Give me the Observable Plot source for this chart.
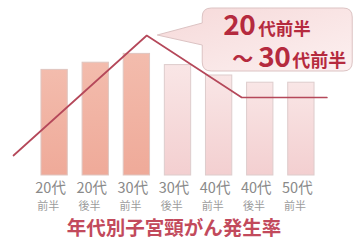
<!DOCTYPE html>
<html>
<head>
<meta charset="utf-8">
<script src="https://cdn.jsdelivr.net/npm/d3@7"></script>
<script src="https://cdn.jsdelivr.net/npm/@observablehq/plot@0.6"></script>
<style>
  html, body { margin: 0; padding: 0; background: #fff; }
  svg { display: block; }
</style>
</head>
<body>
<div id="chart"></div>
<script>
// ---- data ----
const ages = ["20代", "20代", "30代", "30代", "40代", "40代", "50代"];
const halves = ["前半", "後半", "前半", "後半", "前半", "後半", "前半"];
const rates = [66, 70.5, 76, 69, 62.5, 58, 58];
const highlightCount = 3; // 20代前半 ～ 30代前半
const trendX = [0, 3.24, 5.55, 7.62];
const trendY = [12.5, 87.5, 48.75, 48.75];
const calloutLine1 = ["20", "代前半"];
const calloutLine2 = ["～", "30", "代前半"];
const title = "年代別子宮頸がん発生率";

const bars = rates.map((v, i) => ({pos: i + 1, value: v, age: ages[i], half: halves[i], hi: i < highlightCount}));
const trend = trendX.map((x, i) => ({x, y: trendY[i]}));
const font = "'Noto Sans CJK JP', 'Noto Sans', sans-serif";
const hw = 0.32;

const chart = Plot.plot({
  width: 358,
  height: 249,
  marginTop: 15,
  marginBottom: 74,
  marginLeft: 13,
  marginRight: 16,
  x: {type: "linear", domain: [0, 8], axis: null},
  y: {domain: [0, 100], axis: null},
  style: {fontFamily: font, background: "#fff"},
  marks: [
    Plot.rectY(bars.filter(d => d.hi), {x1: d => d.pos - hw, x2: d => d.pos + hw, y1: 0, y2: "value", fill: "url(#gHi)", stroke: "#dfc6c0", strokeWidth: 1}),
    Plot.rectY(bars.filter(d => !d.hi), {x1: d => d.pos - hw, x2: d => d.pos + hw, y1: 0, y2: "value", fill: "url(#gLo)", stroke: "#ddcccc", strokeWidth: 1}),
    Plot.line(trend, {x: "x", y: "y", stroke: "#b5485a", strokeWidth: 1.7}),
    Plot.text(bars, {x: d => d.pos - 0.47, y: 0, text: "age", textAnchor: "start", dy: 13, fontSize: 14.5, fill: "#8a8a8a"}),
    Plot.text(bars, {x: d => d.pos - 0.47, y: 0, text: "half", textAnchor: "start", dx: 2, dy: 31, fontSize: 11, fill: "#9c9c9c"}),
    Plot.text([title], {frameAnchor: "bottom", text: d => d, dx: -4, dy: 59, fontSize: 19.5, fontWeight: "bold", fill: "#c24a5c"})
  ]
});

document.getElementById("chart").appendChild(chart);

// gradients + callout
const svg = d3.select(chart);
const defs = svg.insert("defs", ":first-child");
const gHi = defs.append("linearGradient").attr("id", "gHi").attr("x1", 0).attr("y1", 0).attr("x2", 0).attr("y2", 1);
gHi.append("stop").attr("offset", "0%").attr("stop-color", "#f3bcad");
gHi.append("stop").attr("offset", "100%").attr("stop-color", "#efaa99");
const gLo = defs.append("linearGradient").attr("id", "gLo").attr("x1", 0).attr("y1", 0).attr("x2", 0).attr("y2", 1);
gLo.append("stop").attr("offset", "0%").attr("stop-color", "#f9e6e6");
gLo.append("stop").attr("offset", "100%").attr("stop-color", "#f3cfd0");
const gBox = defs.append("linearGradient").attr("id", "gBox").attr("x1", 0).attr("y1", 0).attr("x2", 1).attr("y2", 1);
gBox.append("stop").attr("offset", "0%").attr("stop-color", "#f6d9d9");
gBox.append("stop").attr("offset", "100%").attr("stop-color", "#fcf0f0");

const sx = chart.scale("x"), sy = chart.scale("y");
const peakX = sx.apply(trendX[1]), peakY = sy.apply(trendY[1]);
const tipX = peakX + 11, tipY = peakY;
const bx = tipX + 45, by = tipY - 27, bw = 150, bh = 63, r = 9;
const p = d3.path();
p.moveTo(bx + r, by);
p.lineTo(bx + bw - r, by);
p.quadraticCurveTo(bx + bw, by, bx + bw, by + r);
p.lineTo(bx + bw, by + bh - r);
p.quadraticCurveTo(bx + bw, by + bh, bx + bw - r, by + bh);
p.lineTo(bx + r, by + bh);
p.quadraticCurveTo(bx, by + bh, bx, by + bh - r);
p.lineTo(bx, by + 37);
p.lineTo(tipX, tipY);
p.lineTo(bx, by + 15);
p.lineTo(bx, by + r);
p.quadraticCurveTo(bx, by, bx + r, by);
p.closePath();
const g = svg.append("g").attr("font-family", font).attr("font-weight", "bold").attr("fill", "#b52a3e");
g.append("path").attr("d", p.toString()).attr("fill", "url(#gBox)").attr("stroke", "#dcc3c3").attr("stroke-width", 1);
g.append("text").attr("x", bx + 53).attr("y", by + 27).attr("text-anchor", "end").attr("font-size", 28).attr("letter-spacing", "-0.5").text(calloutLine1[0]);
g.append("text").attr("x", bx + 56).attr("y", by + 27).attr("text-anchor", "start").attr("font-size", 17.5).text(calloutLine1[1]);
g.append("text").attr("x", bx + 51).attr("y", by + 58).attr("text-anchor", "end").attr("font-size", 21).text(calloutLine2[0]);
g.append("text").attr("x", bx + 88).attr("y", by + 59).attr("text-anchor", "end").attr("font-size", 28).attr("letter-spacing", "-0.5").text(calloutLine2[1]);
g.append("text").attr("x", bx + 90).attr("y", by + 59).attr("text-anchor", "start").attr("font-size", 18).text(calloutLine2[2]);
</script>
</body>
</html>
